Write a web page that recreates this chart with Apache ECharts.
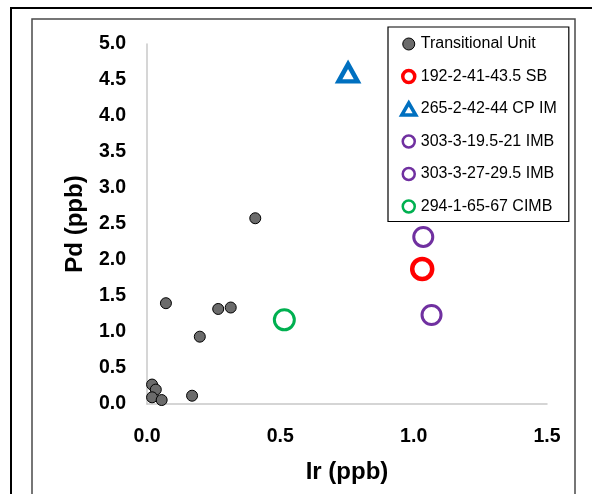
<!DOCTYPE html>
<html>
<head>
<meta charset="utf-8">
<script src="https://cdn.jsdelivr.net/npm/echarts@6/dist/echarts.min.js"></script>
<style>
  html, body { margin: 0; padding: 0; background: #fff; }
  #main { width: 592px; height: 494px; }
</style>
</head>
<body>
<div id="main"></div>
<script>
  // values
  var seriesNames = ['Transitional Unit', '192-2-41-43.5 SB', '265-2-42-44 CP IM',
    '303-3-19.5-21 IMB', '303-3-27-29.5 IMB', '294-1-65-67 CIMB']
  var tuIr = [0.406, 0.071, 0.267, 0.314, 0.198, 0.019, 0.033, 0.019, 0.055, 0.169]
  var tuPd = [2.58, 1.40, 1.32, 1.34, 0.935, 0.27, 0.20, 0.093, 0.055, 0.115]
  var sbIr = [1.032], sbPd = [1.875]
  var cpIr = [0.754], cpPd = [4.60]
  var imb1Ir = [1.036], imb1Pd = [2.32]
  var imb2Ir = [1.067], imb2Pd = [1.236]
  var cimbIr = [0.515], cimbPd = [1.17]
  var xTicks = [0, 0.5, 1.0, 1.5]
  var yTicks = [0, 0.5, 1.0, 1.5, 2.0, 2.5, 3.0, 3.5, 4.0, 4.5, 5.0]

  function pairs(xs, ys) {
    return xs.map(function (x, i) { return [x, ys[i]] })
  }

  var font = 'Liberation Sans'
  var chart = echarts.init(document.getElementById('main'))
  chart.setOption({
    backgroundColor: '#fff',
    animation: false,
    graphic: [
      { type: 'rect', shape: { x: 11, y: 8, width: 620, height: 600 },
        style: { fill: 'none', stroke: '#000', lineWidth: 2 }, silent: true },
      { type: 'rect', shape: { x: 32, y: 19, width: 543, height: 600 },
        style: { fill: 'none', stroke: '#4a4a4a', lineWidth: 1.5 }, silent: true }
    ],
    grid: { left: 147, top: 44, width: 400, height: 360 },
    xAxis: {
      type: 'value', min: xTicks[0], max: xTicks[xTicks.length - 1], interval: 0.5,
      name: 'Ir (ppb)', nameLocation: 'middle', nameGap: 56,
      nameTextStyle: { fontFamily: font, fontWeight: 'bold', fontSize: 24, color: '#000' },
      axisLine: { lineStyle: { color: '#c8c8c8', width: 1.5 } },
      axisTick: { show: false },
      splitLine: { show: false },
      axisLabel: { margin: 23, fontFamily: font, fontWeight: 'bold', fontSize: 19.5, color: '#000',
        formatter: function (v) { return v.toFixed(1) } }
    },
    yAxis: {
      type: 'value', min: yTicks[0], max: yTicks[yTicks.length - 1], interval: 0.5,
      name: 'Pd (ppb)', nameLocation: 'middle', nameGap: 60, nameRotate: 90,
      nameTextStyle: { fontFamily: font, fontWeight: 'bold', fontSize: 24, color: '#000' },
      axisLine: { show: true, lineStyle: { color: '#c8c8c8', width: 1.5 } },
      axisTick: { show: false },
      splitLine: { show: false },
      axisLabel: { margin: 21, fontFamily: font, fontWeight: 'bold', fontSize: 19.5, color: '#000',
        formatter: function (v) { return v.toFixed(1) } }
    },
    legend: {
      orient: 'vertical', left: 388, top: 27,
      padding: [7, 12, 5, 12],
      itemWidth: 14, itemHeight: 12, itemGap: 12.5,
      backgroundColor: '#fff', borderColor: '#000', borderWidth: 1.2,
      textStyle: { fontFamily: font, fontSize: 16, color: '#000', lineHeight: 20 },
      data: [
        { name: seriesNames[0], icon: 'circle', itemStyle: { color: '#6b6b6b', borderColor: '#000', borderWidth: 1 } },
        { name: seriesNames[1], icon: 'circle', itemStyle: { color: '#fff', borderColor: '#ff0000', borderWidth: 3.5 } },
        { name: seriesNames[2], icon: 'triangle', itemStyle: { color: '#fff', borderColor: '#0070c0', borderWidth: 3.5 } },
        { name: seriesNames[3], icon: 'circle', itemStyle: { color: '#fff', borderColor: '#7030a0', borderWidth: 2.5 } },
        { name: seriesNames[4], icon: 'circle', itemStyle: { color: '#fff', borderColor: '#7030a0', borderWidth: 2.5 } },
        { name: seriesNames[5], icon: 'circle', itemStyle: { color: '#fff', borderColor: '#00b050', borderWidth: 2.5 } }
      ]
    },
    series: [
      { name: seriesNames[0], type: 'scatter', symbol: 'circle', symbolSize: 11, z: 5,
        itemStyle: { color: '#6b6b6b', borderColor: '#000', borderWidth: 1, opacity: 1 },
        data: pairs(tuIr, tuPd) },
      { name: seriesNames[1], type: 'scatter', symbol: 'circle', symbolSize: 20,
        itemStyle: { color: '#fff', borderColor: '#ff0000', borderWidth: 4.5, opacity: 1 },
        data: pairs(sbIr, sbPd) },
      { name: seriesNames[2], type: 'scatter', symbol: 'triangle', symbolSize: [19, 17],
        itemStyle: { color: '#fff', borderColor: '#0070c0', borderWidth: 4.5, opacity: 1 },
        data: pairs(cpIr, cpPd) },
      { name: seriesNames[3], type: 'scatter', symbol: 'circle', symbolSize: 19,
        itemStyle: { color: '#fff', borderColor: '#7030a0', borderWidth: 3, opacity: 1 },
        data: pairs(imb1Ir, imb1Pd) },
      { name: seriesNames[4], type: 'scatter', symbol: 'circle', symbolSize: 19,
        itemStyle: { color: '#fff', borderColor: '#7030a0', borderWidth: 3, opacity: 1 },
        data: pairs(imb2Ir, imb2Pd) },
      { name: seriesNames[5], type: 'scatter', symbol: 'circle', symbolSize: 20,
        itemStyle: { color: '#fff', borderColor: '#00b050', borderWidth: 3, opacity: 1 },
        data: pairs(cimbIr, cimbPd) }
    ]
  })
</script>
</body>
</html>
